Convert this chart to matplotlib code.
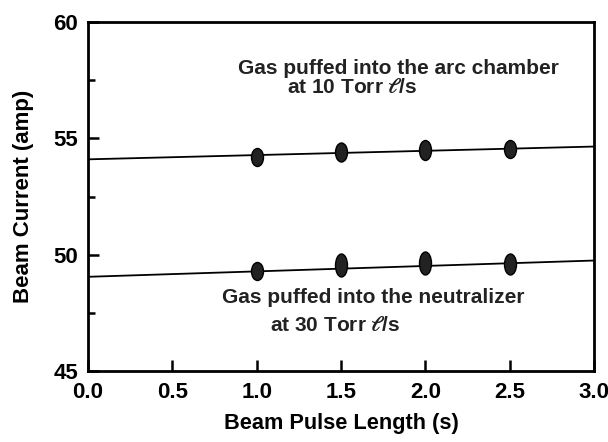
import numpy as np
import matplotlib
matplotlib.use('Agg')
import matplotlib.pyplot as plt
from matplotlib.markers import MarkerStyle
from matplotlib.transforms import Affine2D
from matplotlib.ticker import MultipleLocator

plt.rcParams['font.family'] = ['Liberation Sans', 'DejaVu Sans']
plt.rcParams['font.weight'] = 'bold'
plt.rcParams['mathtext.fontset'] = 'stix'

# datos
pulse_len = [1.0, 1.5, 2.0, 2.5]
arc_current = [54.2, 54.4, 54.5, 54.55]
neut_current = [49.3, 49.55, 49.65, 49.6]

# rectas de ajuste (extremos en x=0 y x=3)
fit_x = [0.0, 3.0]
arc_fit = [54.1, 54.65]
neut_fit = [49.05, 49.75]

# alto de cada punto en px (los puntos son elipses)
arc_h = [18, 19, 20, 18]
neut_h = [18, 23, 23, 21]
punto_w = 12

fig = plt.figure(figsize=(6.08, 4.42), dpi=100)
ax = fig.add_axes([0.1447, 0.1606, 0.8323, 0.7894])

ax.plot(fit_x, arc_fit, color='black', lw=1.3)
ax.plot(fit_x, neut_fit, color='black', lw=1.3)

for xs, ys, hs in [(pulse_len, arc_current, arc_h), (pulse_len, neut_current, neut_h)]:
    for x, y, h in zip(xs, ys, hs):
        m = MarkerStyle('o', transform=Affine2D().scale(punto_w / h, 1.0))
        ax.plot([x], [y], ls='none', marker=m, ms=h * 0.72,
                mfc='#222222', mec='black', mew=1.0)

ax.set_xlim(0, 3)
ax.set_ylim(45, 60)
ax.xaxis.set_major_locator(MultipleLocator(0.5))
ax.yaxis.set_major_locator(MultipleLocator(5))
ax.yaxis.set_minor_locator(MultipleLocator(2.5))
ax.tick_params(axis='both', which='major', direction='in', length=8, width=1.8,
               labelsize=16)
ax.tick_params(axis='x', pad=8)
ax.tick_params(axis='y', pad=7)
ax.tick_params(axis='y', which='minor', direction='in', length=5, width=1.8)
for sp in ax.spines.values():
    sp.set_linewidth(2.0)

ax.set_xlabel('Beam Pulse Length (s)', fontsize=15.7, fontweight='bold', labelpad=7)
ax.set_ylabel('Beam Current (amp)', fontsize=16, fontweight='bold', labelpad=14)

txt = dict(fontsize=15, fontweight='bold', va='center', color='#222222')
ax.text(0.889, 58.02, 'Gas puffed into the arc chamber', **txt)
ax.text(1.18, 57.2, 'at 10 Torr $\\ell$/s', **txt)
ax.text(0.794, 48.14, 'Gas puffed into the neutralizer', **txt)
ax.text(1.079, 46.94, 'at 30 Torr $\\ell$/s', **txt)

fig.savefig('out.png', dpi=100)
